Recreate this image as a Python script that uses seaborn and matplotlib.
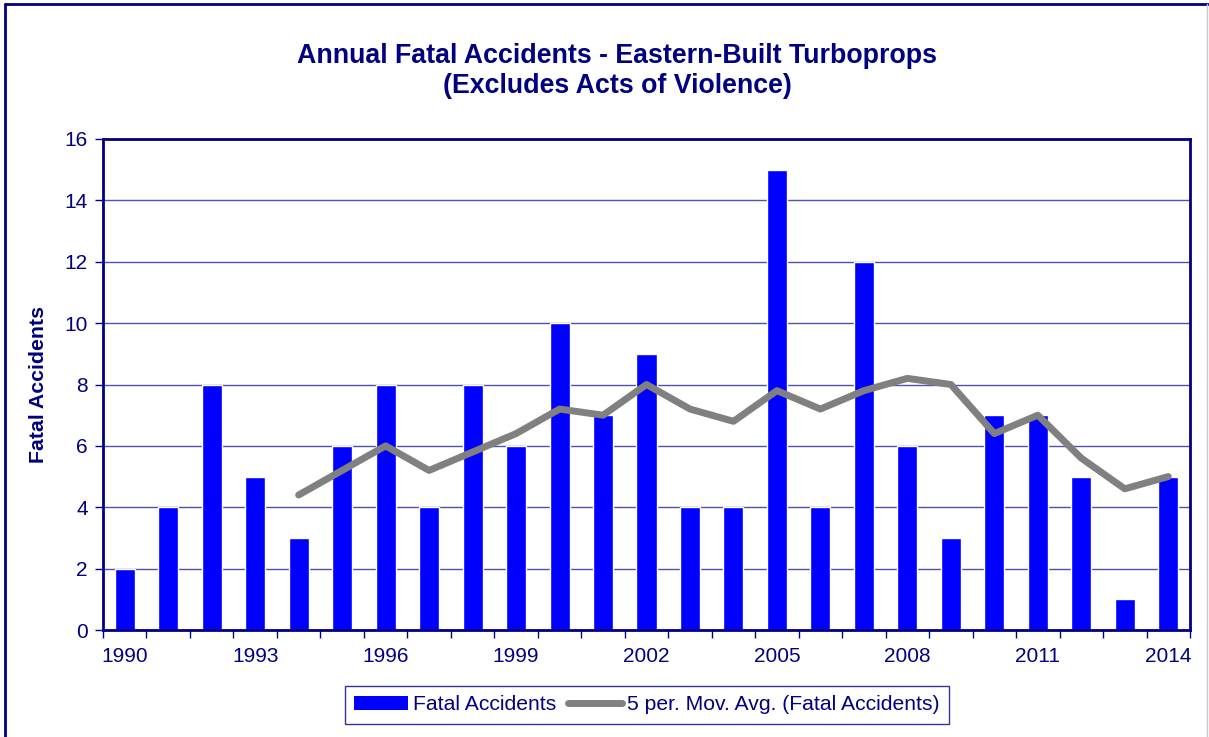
import matplotlib
matplotlib.use("Agg")
import matplotlib.pyplot as plt
import seaborn as sns
from matplotlib.patches import Patch
from matplotlib.lines import Line2D

# data
years = list(range(1990, 2015))
fatal_accidents = [2, 4, 8, 5, 3, 6, 8, 4, 8, 6, 10, 7, 9, 4, 4, 15, 4, 12, 6, 3, 7, 7, 5, 1, 5]
ma_years = list(range(1994, 2015))
moving_avg = [4.4, 5.2, 6.0, 5.2, 5.8, 6.4, 7.2, 7.0, 8.0, 7.2, 6.8, 7.8, 7.2, 7.8, 8.2, 8.0, 6.4, 7.0, 5.6, 4.6, 5.0]
tick_years = [1990, 1993, 1996, 1999, 2002, 2005, 2008, 2011, 2014]
y_ticks = [0, 2, 4, 6, 8, 10, 12, 14, 16]

navy = "#000080"
sns.set_theme(style="white")
plt.rcParams["font.family"] = ["Liberation Sans", "DejaVu Sans"]

fig = plt.figure(figsize=(12.09, 7.37), dpi=100)
ax = fig.add_axes([103 / 1209, 1 - 630 / 737, (1190 - 103) / 1209, (630 - 139) / 737])

sns.barplot(x=years, y=fatal_accidents, native_scale=True, color="#0000FF",
            saturation=1, width=0.46, errorbar=None, ax=ax, zorder=2)
sns.lineplot(x=ma_years, y=moving_avg, color="#808080", linewidth=5,
             solid_capstyle="round", ax=ax, zorder=3)

ax.set_xlim(years[0] - 0.5, years[-1] + 0.5)
ax.set_ylim(0, 16)
ax.set_yticks(y_ticks)
ax.set_xticks(tick_years)
ax.set_xticks([y - 0.5 for y in years] + [years[-1] + 0.5], minor=True)
ax.tick_params(axis="x", which="major", length=0, labelsize=15, labelcolor=navy, pad=12)
ax.tick_params(axis="x", which="minor", length=6, width=1, color=navy, direction="out", bottom=True)
ax.tick_params(axis="y", length=6, width=1, color=navy, direction="out", left=True,
               labelsize=15, labelcolor=navy, pad=5)

ax.grid(axis="y", color="#5050B0", linewidth=1)
ax.set_axisbelow(True)
for s in ax.spines.values():
    s.set_color(navy)
    s.set_linewidth(2)

ax.set_xlabel("")
ax.set_ylabel("Fatal Accidents", fontsize=15.3, fontweight="bold", color=navy, labelpad=12)

fig.text(617 / 1209, 1 - 71 / 737,
         "Annual Fatal Accidents - Eastern-Built Turboprops\n(Excludes Acts of Violence)",
         ha="center", va="center", fontsize=19.3, fontweight="bold", color=navy, linespacing=1.22)

handles = [Patch(facecolor="#0000FF", edgecolor="none"),
           Line2D([], [], color="#808080", linewidth=5, solid_capstyle="round")]
leg = fig.legend(handles, ["Fatal Accidents", "5 per. Mov. Avg. (Fatal Accidents)"],
                 loc="center", bbox_to_anchor=(647 / 1209, 1 - 704.5 / 737), ncol=2,
                 frameon=True, fancybox=False, edgecolor=navy, fontsize=15.2,
                 labelcolor=navy, handlelength=2.55, handleheight=0.65, handletextpad=0.25,
                 columnspacing=0.55, borderpad=0.45, borderaxespad=0)
leg.get_frame().set_linewidth(1)
for t in leg.get_texts():
    pass

# outer chart border
fig.add_artist(Line2D([5 / 1209, 1208 / 1209], [1 - 4 / 737, 1 - 4 / 737], color=navy, linewidth=2))
fig.add_artist(Line2D([5 / 1209, 5 / 1209], [0, 1 - 4 / 737], color=navy, linewidth=2))
fig.add_artist(Line2D([1207 / 1209, 1207 / 1209], [0, 1 - 4 / 737], color="#C8C8D8", linewidth=1))

fig.savefig("out.png", dpi=100)
